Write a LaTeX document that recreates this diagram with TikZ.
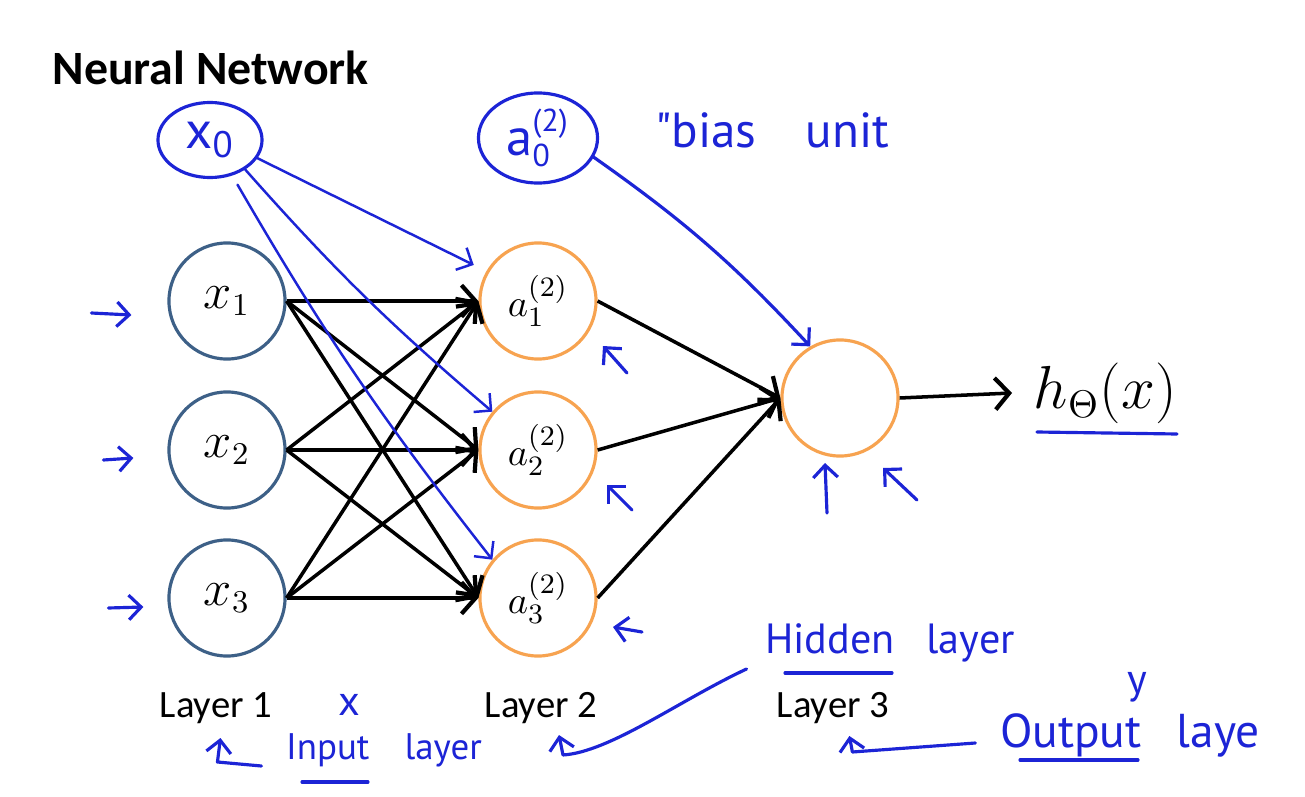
\documentclass[tikz,border=0pt]{standalone}
\usepackage[no-math]{fontspec}
\usepackage{tikz}
\usetikzlibrary{positioning,arrows.meta,calc,shapes.geometric}
\newfontfamily\slidefont{Carlito}
\newfontfamily\inkfont{PT Sans}
\definecolor{inputblue}{RGB}{61,96,135}
\definecolor{unitorange}{RGB}{247,163,80}
\definecolor{inkblue}{RGB}{28,36,214}
\def\unitsize{1.16cm}
\tikzstyle{unit}=[circle, line width=0.9pt, minimum size=\unitsize, inner sep=0pt]
\tikzstyle{inputunit}=[style=unit, draw=inputblue, font=\fontsize{13.5}{16}\selectfont]
\tikzstyle{hiddenunit}=[style=unit, draw=unitorange, font=\fontsize{11}{13}\selectfont]
\tikzstyle{outputunit}=[style=unit, draw=unitorange]
\tikzstyle{synapse}=[arrows={-{Straight Barb[length=4pt,width=9pt,line width=1.2pt]}}, draw=black, line width=1pt]
\tikzstyle{layerlabel}=[font=\slidefont\fontsize{11}{13}\selectfont]
\tikzstyle{ink}=[draw=inkblue, line width=0.9pt, line cap=round, line join=round]
\tikzstyle{inkarrow}=[style=ink, arrows={-{Straight Barb[length=3.5pt,width=7pt]}}]
\tikzstyle{inklabel}=[text=inkblue, inner sep=0pt, font=\inkfont\fontsize{12}{14}\selectfont]
\tikzstyle{biasunit}=[ellipse, style=ink, inner sep=0pt, text=inkblue, font=\inkfont\fontsize{15}{17}\selectfont]

\begin{document}
\begin{tikzpicture}[x=0.01cm, y=-0.01cm]
\useasboundingbox[fill=white] (0,0) rectangle (1305,797);
% title
\node[anchor=west, inner sep=0pt, font=\slidefont\bfseries\fontsize{13.6}{16}\selectfont] (title) at (52,68) {Neural Network};
% units
\foreach \i/\y in {1/301,2/450,3/598} {
  \node[inputunit] (x\i) at (227,\y) {$x_\i$};
  \node[hiddenunit] (a\i) at (538,\y) {$a^{(2)}_\i$};
}
\node[outputunit] (out) at (840,398) {};
\node[anchor=west, inner sep=6pt, font=\fontsize{16}{19}\selectfont] (hyp) at (1012,393) {$h_\Theta(x)$};
% weights
\foreach \i in {1,2,3} {
  \foreach \j in {1,2,3} \draw[synapse] (x\i.east) -- (a\j.west);
  \draw[synapse] (a\i.east) -- (out.west);
}
\draw[synapse] (out.east) -- (hyp.west);
% layer labels
\node[layerlabel] (layer1) at (216,708) {Layer 1};
\node[layerlabel] (layer2) at (541,708) {Layer 2};
\node[layerlabel] (layer3) at (833,708) {Layer 3};

% pen notes: bias units
\node[biasunit, minimum width=1.04cm, minimum height=0.75cm] (x0) at (210,140) {x\textsubscript{0}};
\node[biasunit, minimum width=1.19cm, minimum height=0.9cm] (a0) at (538,138) {$\hbox{\inkfont a}^{\hbox{\inkfont\fontsize{9}{10}\selectfont(2)}}_{\hbox{\inkfont\fontsize{9}{10}\selectfont 0}}$};
\node[inklabel, font=\inkfont\fontsize{14}{16}\selectfont] (biaslabel) at (772,130) {"bias\quad unit};
\draw[inkarrow, line width=0.7pt, shorten >=4pt] (x0.-21) -- (a1.150);
\draw[inkarrow, line width=0.7pt] (x0.-40) to[bend right=4] (a2.140);
\draw[inkarrow, line width=0.7pt, shorten <=3pt] (x0.-58) to[bend right=4] (a3.140);
\draw[inkarrow] (a0.-19) to[bend left=6] (out.120);

% pen notes: inputs and activations
\draw[inkarrow] ($(x1.west)+(-76,12)$) -- ($(x1.west)+(-36,14)$);
\draw[inkarrow] ($(x2.west)+(-64,10)$) -- ($(x2.west)+(-34,8)$);
\draw[inkarrow] ($(x3.west)+(-59,10)$) -- ($(x3.west)+(-24,9)$);
\draw[inkarrow] ($(a1)+(89,72)$) -- ($(a1)+(65,45)$);
\draw[inkarrow] ($(a2)+(94,60)$) -- ($(a2)+(69,35)$);
\draw[inkarrow] ($(a3)+(104,34)$) -- ($(a3)+(75,29)$);
\draw[inkarrow] ($(out)+(-13,115)$) -- ($(out)+(-15,65)$);
\draw[inkarrow] ($(out)+(77,102)$) -- ($(out)+(43,70)$);
\draw[ink] (1037,432) -- (1177,434);

% pen notes: layer names
\node[inklabel] (xvec) at (349,705) {x};
\node[inklabel, font=\inkfont\fontsize{10.5}{12}\selectfont] (inputlabel) at (384,750) {Input\hspace{10pt}layer};
\draw[ink] (302,782) -- (368,782);
\draw[inkarrow] ($(inputlabel.west)+(-24,16)$) -- ++(-44,-4) -- ++(3,-24);
\node[inklabel] (hiddenlabel) at (890,643) {Hidden\hspace{9pt}layer};
\draw[ink] (785,673) -- (892,673);
\draw[inkarrow] ($(hiddenlabel.west)+(-18,26)$) .. controls (680,700) and (610,752) .. (563,755) -- ++(-4,-20);
\node[inklabel, font=\inkfont\fontsize{13.5}{16}\selectfont] (outputlabel) at (1130,735) {Output\hspace{10pt}laye};
\node[inklabel] (ylabel) at (1137,687) {y};
\draw[ink] (1020,760) -- (1138,760);
\draw[inkarrow] ($(outputlabel.west)+(-24,8)$) -- ++(-123,9) -- ++(-3,-16);
\end{tikzpicture}
\end{document}
